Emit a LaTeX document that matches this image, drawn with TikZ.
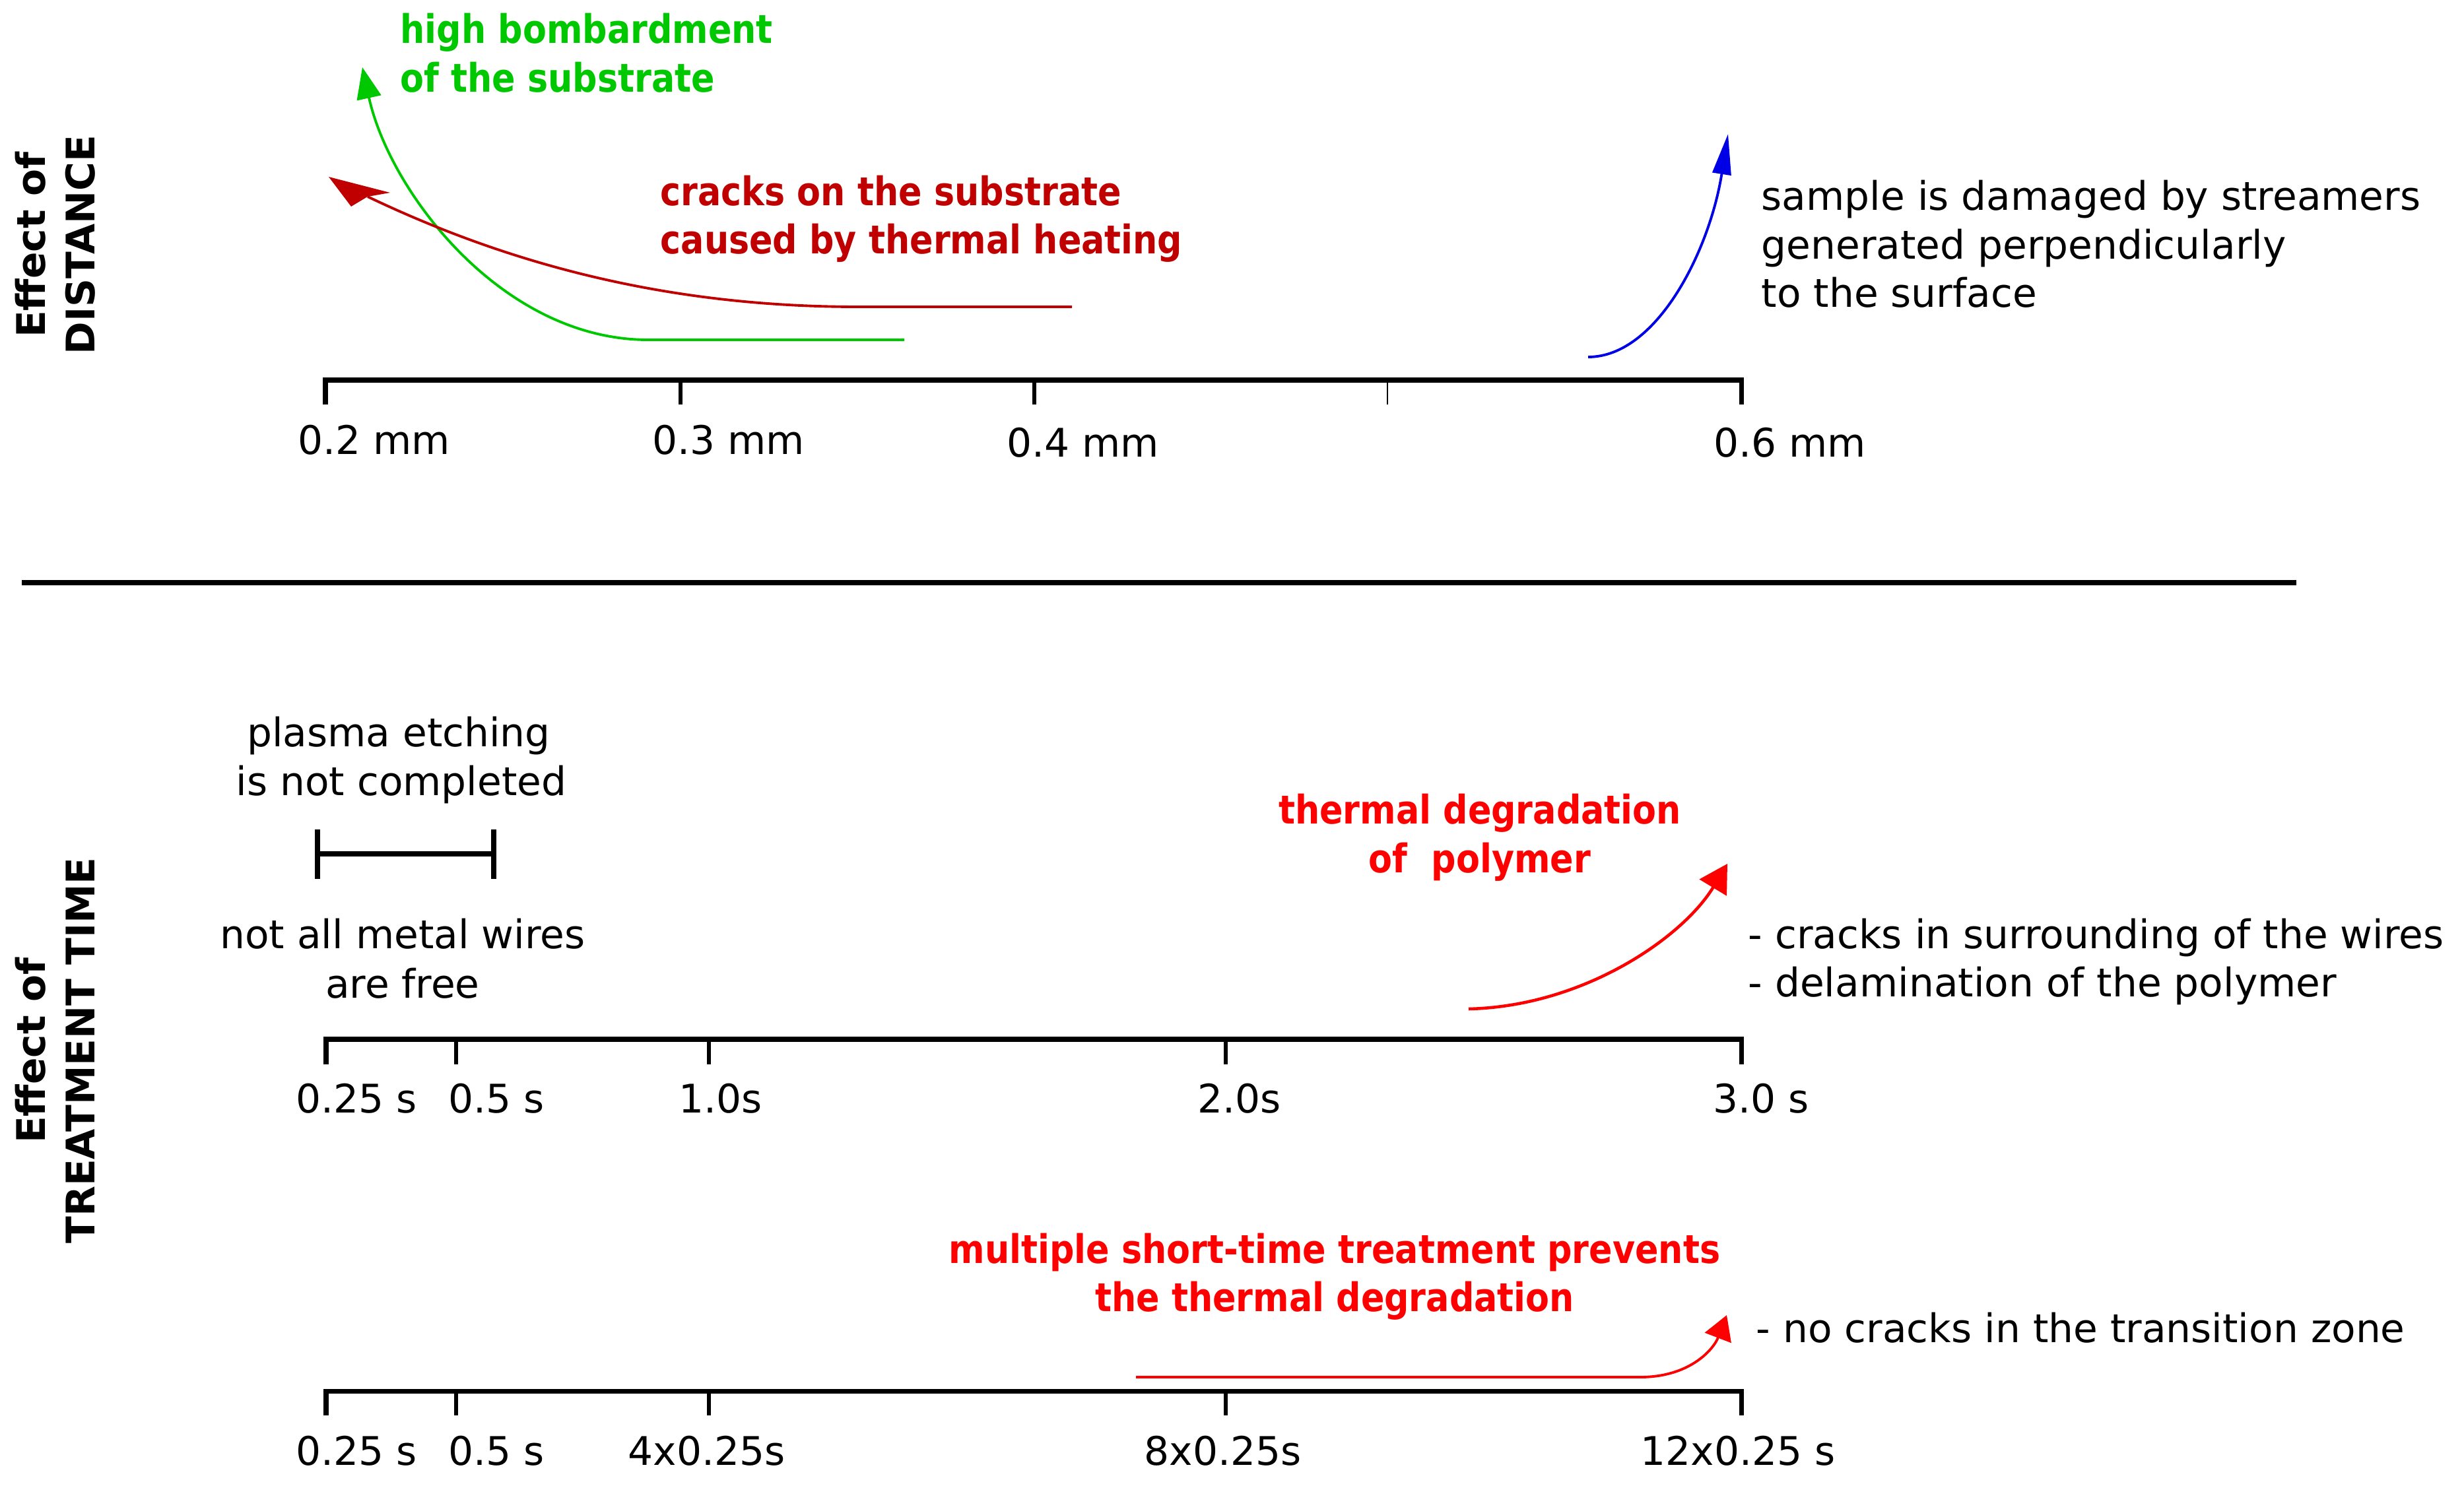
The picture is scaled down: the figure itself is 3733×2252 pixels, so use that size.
\documentclass[tikz,border=0pt]{standalone}
\usepackage{fontspec}
\setmainfont{DejaVu Sans}
\newfontfamily\cbold[FakeStretch=0.875]{DejaVu Sans}
\usetikzlibrary{arrows.meta}
\definecolor{dkred}{RGB}{192,0,0}
\definecolor{grn}{RGB}{0,200,0}
\definecolor{blu}{RGB}{0,0,230}
\definecolor{brred}{RGB}{255,0,0}
\tikzset{
  lbl/.style={inner sep=0pt, anchor=base west, font=\fontsize{17}{20}\selectfont},
  clbl/.style={inner sep=0pt, anchor=base, font=\fontsize{17}{20}\selectfont},
  colt/.style={inner sep=0pt, font=\fontsize{17}{20}\selectfont\cbold\bfseries},
  side/.style={inner sep=0pt, rotate=90, anchor=base, font=\fontsize{17}{20}\selectfont\bfseries},
  axisline/.style={line width=2pt, line join=miter},
  tickline/.style={line width=1.7pt},
  thintick/.style={line width=0.6pt},
  curve/.style={line width=1.1pt},
}
\begin{document}
\begin{tikzpicture}[x=0.01cm, y=-0.01cm]
\useasboundingbox (0,0) rectangle (3733,2252);

% ---------- DISTANCE section ----------
\node[side] (eff1) at (68,371) {Effect of};
\node[side] (eff2) at (143,371) {DISTANCE};

\node[colt, text=grn, anchor=base west] (g1) at (606,66) {high bombardment};
\node[colt, text=grn, anchor=base west] (g2) at (606,140) {of the substrate};

\node[colt, text=dkred, anchor=base west] (r1) at (1000,312) {cracks on the substrate};
\node[colt, text=dkred, anchor=base west] (r2) at (1000,385) {caused by thermal heating};

\node[lbl] (s1) at (2668,319) {sample is damaged by streamers};
\node[lbl] (s2) at (2668,393) {generated perpendicularly};
\node[lbl] (s3) at (2668,466) {to the surface};

% axis 1
\draw[axisline] (493,613) -- (493,576) -- (2638,576) -- (2638,613);
\draw[tickline] (1031,576) -- (1031,613);
\draw[tickline] (1567,576) -- (1567,613);
\draw[thintick] (2102,576) -- (2102,613);
\node[lbl] (d2) at (451,689) {0.2 mm};
\node[lbl] (d3) at (988,689) {0.3 mm};
\node[lbl] (d4) at (1525,693) {0.4 mm};
\node[lbl] (d6) at (2596,693) {0.6 mm};

% arrows
\coordinate (gs) at (1370,515);
\coordinate (gm) at (982,515);
\coordinate (ge) at (549,102);
\draw[grn, curve, -{Triangle[length=13.5pt, width=10.5pt]}] (gs) -- (gm) .. controls (760,515) and (590,290) .. (ge);

\coordinate (rs) at (1624,465);
\coordinate (rm) at (1300,465);
\coordinate (rn) at (557,298);
\coordinate (re) at (498,268);
\draw[dkred, curve] (rs) -- (rm) .. controls (1000,465) and (760,395) .. (rn);
\fill[dkred] (re) -- (532,313) -- (rn) -- (591,292) -- cycle;

\coordinate (bs) at (2406,541);
\coordinate (be) at (2618,203);
\draw[blu, curve, -{Triangle[length=17.5pt, width=8pt]}] (bs) .. controls (2510,541) and (2590,380) .. (be);

% separator
\draw[line width=2.3pt] (33,883) -- (3479,883);

% ---------- TREATMENT TIME section ----------
\node[side] (eff3) at (68,1592) {Effect of};
\node[side] (eff4) at (143,1592) {TREATMENT TIME};

\node[clbl] (p1) at (604,1131) {plasma etching};
\node[clbl] (p2) at (608,1205) {is not completed};
\draw[axisline] (481,1257) -- (481,1332);
\draw[axisline] (748,1257) -- (748,1332);
\draw[axisline] (481,1294) -- (748,1294);
\node[clbl] (n1) at (610,1437) {not all metal wires};
\node[clbl] (n2) at (610,1512) {are free};

% axis 2
\draw[axisline] (494,1613) -- (494,1575) -- (2638,1575) -- (2638,1613);
\draw[tickline] (691,1575) -- (691,1613);
\draw[tickline] (1074,1575) -- (1074,1613);
\draw[tickline] (1857,1575) -- (1857,1613);
\node[lbl] (t1) at (448,1686) {0.25 s};
\node[lbl] (t2) at (679,1686) {0.5 s};
\node[lbl] (t3) at (1028,1686) {1.0s};
\node[lbl] (t4) at (1814,1686) {2.0s};
\node[lbl] (t5) at (2595,1686) {3.0 s};

\node[colt, text=brred, anchor=base] (th1) at (2242,1248) {thermal degradation};
\node[colt, text=brred, anchor=base] (th2) at (2242,1322) {of\ \ polymer};
\coordinate (ms) at (2225,1529);
\coordinate (me) at (2617,1309);
\draw[brred, curve, line width=1.3pt, -{Triangle[length=12pt, width=13.5pt]}] (ms) .. controls (2400,1525) and (2550,1420) .. (me);
\node[lbl] (c1) at (2648,1437) {- cracks in surrounding of the wires};
\node[lbl] (c2) at (2648,1510) {- delamination of the polymer};

% axis 3
\draw[axisline] (494,2145) -- (494,2108) -- (2638,2108) -- (2638,2145);
\draw[tickline] (691,2108) -- (691,2145);
\draw[tickline] (1074,2108) -- (1074,2145);
\draw[tickline] (1857,2108) -- (1857,2145);
\node[lbl] (u1) at (448,2220) {0.25 s};
\node[lbl] (u2) at (679,2220) {0.5 s};
\node[lbl] (u3) at (951,2220) {4x0.25s};
\node[lbl] (u4) at (1733,2220) {8x0.25s};
\node[lbl] (u5) at (2485,2220) {12x0.25 s};

\node[colt, text=brred, anchor=base] (mu1) at (2022,1914) {multiple short-time treatment prevents};
\node[colt, text=brred, anchor=base] (mu2) at (2022,1987) {the thermal degradation};
\coordinate (ls) at (1721,2087);
\coordinate (lm) at (2485,2087);
\coordinate (le) at (2616,1993);
\draw[brred, curve, -{Triangle[length=10.5pt, width=12pt]}] (ls) -- (lm) .. controls (2560,2087) and (2596,2045) .. (le);
\node[lbl] (nc) at (2660,2034) {- no cracks in the transition zone};
\end{tikzpicture}
\end{document}
